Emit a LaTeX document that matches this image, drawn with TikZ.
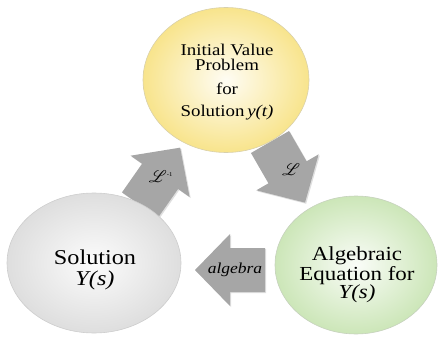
\documentclass[tikz,border=0pt]{standalone}
\usepackage{fontspec}
\setmainfont[FakeStretch=1.15]{Liberation Serif}
\usepackage{mathrsfs}
\usetikzlibrary{shapes.geometric,shadows}

\definecolor{arrowgray}{RGB}{166,166,166}
\definecolor{ivpyellow}{RGB}{248,228,140}
\definecolor{solgray}{RGB}{222,222,222}
\definecolor{alggreen}{RGB}{204,230,184}

\tikzset{
  bubble/.style={ellipse, inner sep=0pt, draw=#1!60!gray!70!white, line width=0.5pt,
    inner color=#1!10!white, outer color=#1},
  bubbletext/.style={align=center, inner sep=0pt},
  arrowlabel/.style={inner sep=1pt, font=\fontsize{15}{15}\selectfont},
  blockarrow/.pic={
    \fill[arrowgray, drop shadow={opacity=0.25, shadow xshift=1pt, shadow yshift=-1pt}]
      (0,-22) -- (35,-22) -- (35,-36) -- (70,0) -- (35,36) -- (35,22) -- (0,22) -- cycle;
  }
}

\begin{document}
\begin{tikzpicture}[x=0.3mm, y=-0.3mm]
    \useasboundingbox (0,0) rectangle (447,340);
    % tails of the block arrows
    \coordinate (linvtail) at (140,205);
    \coordinate (ltail) at (270,142);
    \coordinate (algtail) at (265,270);
    \pic[rotate=55] at (linvtail) {blockarrow};
    \pic[rotate=-60] at (ltail) {blockarrow};
    \pic[rotate=180] at (algtail) {blockarrow};
    \node[arrowlabel] (linvlabel) at (161,177) {$\mathscr{L}^{\mbox{\tiny -1}}$};
    \node[arrowlabel] (llabel) at (291,170) {$\mathscr{L}$};
    \node[arrowlabel, font=\fontsize{13}{13}\selectfont\itshape] (alglabel) at (235,270) {algebra};
    % the three bubbles
    \node[bubble=ivpyellow, minimum width=49.8mm, minimum height=43.5mm] (ivp) at (226,80) {};
    \node[bubble=solgray, minimum width=52.2mm, minimum height=42mm] (sol) at (94,263) {};
    \node[bubble=alggreen, minimum width=48.6mm, minimum height=41.4mm] (alg) at (356,265) {};
    \node[bubbletext, font=\fontsize{14}{13}\selectfont] (ivptext) at (227,82)
        {Initial Value\\Problem\\[7pt]for\\[6pt]Solution\,\textit{y(t)}};
    \node[bubbletext, font=\fontsize{18}{17.5}\selectfont] (soltext) at (95,270)
        {Solution\\\textit{Y(s)}};
    \node[bubbletext, font=\fontsize{17}{15.5}\selectfont] (algtext) at (357,275)
        {Algebraic\\Equation for\\\textit{Y(s)}};
\end{tikzpicture}
\end{document}
